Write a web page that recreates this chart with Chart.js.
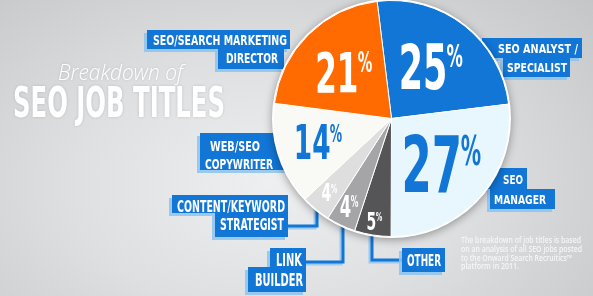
<!DOCTYPE html>
<html lang="en">
<head>
<meta charset="utf-8">
<title>Breakdown of SEO Job Titles</title>
<script src="https://cdn.jsdelivr.net/npm/chart.js"></script>
<style>
    html, body {
        margin: 0;
        padding: 0;
    }

    body {
        width: 593px;
        height: 296px;
        overflow: hidden;
        background: radial-gradient(ellipse 75% 95% at 45% 62%, #eeeff0 0%, #dedfe1 45%, #c4c5c7 100%);
    }

    canvas {
        display: block;
    }
</style>
</head>
<body>
<canvas id="myChart" width="593" height="296"></canvas>
<script>
    // data, in drawing order starting just left of 12 o'clock, clockwise
    const categories = [
        ['SEO ANALYST /', 'SPECIALIST'],
        ['SEO', 'MANAGER'],
        ['OTHER'],
        ['LINK', 'BUILDER'],
        ['CONTENT/KEYWORD', 'STRATEGIST'],
        ['WEB/SEO', 'COPYWRITER'],
        ['SEO/SEARCH MARKETING', 'DIRECTOR']
    ];
    const shares = [25, 27, 5, 4, 4, 14, 21];
    const titleSmall = 'Breakdown of';
    const titleBig = 'SEO JOB TITLES';
    const footnote = [
        'The breakdown of job titles is based',
        'on an analysis of all SEO jobs posted',
        'to the Onward Search Recruitics\u2122',
        'platform in 2011.'
    ];

    // styling
    const BLUE = '#1176d6';
    const sliceColors = [BLUE, '#e8f6fd', '#555557', '#a5a5a8', '#dededf', '#f9f9f5', '#ff6b00'];
    const percentColors = ['#ffffff', BLUE, '#ffffff', '#ffffff', '#ffffff', BLUE, '#ffffff'];
    const labelRadius = [0.56, 0.584, 0.877, 0.825, 0.815, 0.645, 0.56];
    const labelHeight = [45, 56, 18, 21, 18, 34, 40];
    const CONDENSED = '"Liberation Sans Narrow", "DejaVu Sans Condensed", "Liberation Sans", sans-serif';

    // callout boxes: rects [x, y, w, h], text lines [x0, x1, capTop, baseline], connector polyline
    const callouts = [
        {boxes: [[482, 38, 100, 20], [503, 58, 67, 19]], text: [[498, 578, 44, 53], [507, 567, 63, 72]]},
        {boxes: [[470, 168, 57, 21], [490, 189, 65, 20]], text: [[503, 523, 175, 184], [494, 546, 195, 204]]},
        {boxes: [[402, 248, 43, 24]], text: [[407, 441, 255, 266]], line: [[372, 232], [372, 260], [402, 260]]},
        {boxes: [[270, 248, 36, 19], [248, 267, 58, 25]], text: [[276, 302, 254, 266], [255, 303, 274, 286]], line: [[306, 262], [343, 262], [343, 224]]},
        {boxes: [[172, 195, 116, 18], [215, 213, 73, 24]], text: [[177, 285, 201, 212], [220, 284, 219, 230]], line: [[288, 226], [317, 226], [317, 204]]},
        {boxes: [[200, 133, 88, 37]], text: [[210, 260, 141, 151], [205, 273, 159, 169]]},
        {boxes: [[147, 30, 143, 19], [218, 49, 66, 20]], text: [[153, 287, 35, 45], [226, 278, 53, 63]]}
    ];

    function fitText(ctx, text, family, weight, x0, x1, top, base, color) {
        const size = (base - top) / 0.716;
        ctx.save();
        ctx.font = weight + ' ' + size + 'px ' + family;
        ctx.fillStyle = color;
        ctx.textBaseline = 'alphabetic';
        ctx.textAlign = 'left';
        const w = ctx.measureText(text).width;
        ctx.translate(x0, base);
        ctx.scale((x1 - x0) / w, 1);
        ctx.fillText(text, 0, 0);
        ctx.restore();
    }

    function drawPercent(ctx, value, cx, cy, h, color) {
        const digits = String(value);
        ctx.save();
        ctx.fillStyle = color;
        ctx.textBaseline = 'alphabetic';
        ctx.textAlign = 'left';
        ctx.font = 'bold ' + (h / 0.716) + 'px ' + CONDENSED;
        const raw = ctx.measureText(digits).width;
        const sx = (0.54 * h * digits.length) / raw;
        const dw = raw * sx;
        const ph = h * 0.52;
        ctx.font = '600 ' + (ph / 0.716) + 'px ' + CONDENSED;
        const pw = ctx.measureText('%').width * sx;
        const left = cx - (dw + pw) / 2;
        const base = cy + h / 2;

        ctx.save();
        ctx.translate(left, base);
        ctx.scale(sx, 1);
        ctx.font = 'bold ' + (h / 0.716) + 'px ' + CONDENSED;
        ctx.fillText(digits, 0, 0);
        ctx.restore();

        ctx.save();
        ctx.translate(left + dw - h * 0.02, base - h + ph);
        ctx.scale(sx * 0.9, 1);
        ctx.font = '600 ' + (ph / 0.716) + 'px ' + CONDENSED;
        ctx.fillText('%', 0, 0);
        ctx.restore();
        ctx.restore();
    }

    const decorations = {
        id: 'decorations',
        beforeDatasetsDraw(chart) {
            const ctx = chart.ctx;

            // heading
            ctx.save();
            ctx.shadowColor = 'rgba(0,0,0,0.15)';
            ctx.shadowBlur = 3;
            fitText(ctx, titleSmall, '"Open Sans", "Liberation Sans", sans-serif', 'italic 300', 58, 183, 64, 80, '#ffffff');
            fitText(ctx, titleBig, CONDENSED, 'bold', 13, 225, 87, 117, '#ffffff');
            ctx.restore();

            // footnote
            const footY = [243, 252, 260.5, 269];
            const footX1 = [581, 582, 572, 519];
            footnote.forEach((t, i) => {
                fitText(ctx, t, '"Open Sans", "Liberation Sans", sans-serif', '600', 461, footX1[i], footY[i] - 6, footY[i], '#f6f6f6');
            });

            // connectors and boxes
            callouts.forEach(c => {
                if (c.line) {
                    ctx.save();
                    ctx.lineWidth = 3;
                    ctx.lineJoin = 'miter';
                    ctx.strokeStyle = 'rgba(140,195,240,0.8)';
                    ctx.beginPath();
                    c.line.forEach((p, k) => k ? ctx.lineTo(p[0] - 2, p[1] + 2) : ctx.moveTo(p[0] - 2, p[1] + 2));
                    ctx.stroke();
                    ctx.strokeStyle = BLUE;
                    ctx.beginPath();
                    c.line.forEach((p, k) => k ? ctx.lineTo(p[0], p[1]) : ctx.moveTo(p[0], p[1]));
                    ctx.stroke();
                    ctx.restore();
                }
                ctx.fillStyle = 'rgba(140,195,240,0.85)';
                c.boxes.forEach(b => ctx.fillRect(b[0] - 3, b[1] + 3, b[2], b[3]));
                ctx.fillStyle = BLUE;
                c.boxes.forEach(b => ctx.fillRect(b[0], b[1], b[2], b[3]));
            });
            callouts.forEach((c, i) => {
                categories[i].forEach((line, k) => {
                    const t = c.text[k];
                    fitText(ctx, line, CONDENSED, 'bold', t[0], t[1], t[2], t[3], '#ffffff');
                });
            });

            // white rim with soft shadow behind the pie
            const arc = chart.getDatasetMeta(0).data[0];
            ctx.save();
            ctx.shadowColor = 'rgba(0,0,0,0.35)';
            ctx.shadowBlur = 9;
            ctx.shadowOffsetY = 2;
            ctx.fillStyle = '#ffffff';
            ctx.beginPath();
            ctx.arc(arc.x, arc.y, arc.outerRadius + 1.5, 0, Math.PI * 2);
            ctx.fill();
            ctx.restore();
        },
        afterDatasetsDraw(chart) {
            const ctx = chart.ctx;
            chart.getDatasetMeta(0).data.forEach((arc, i) => {
                const mid = (arc.startAngle + arc.endAngle) / 2;
                const r = arc.outerRadius * labelRadius[i];
                drawPercent(ctx, shares[i], arc.x + Math.cos(mid) * r, arc.y + Math.sin(mid) * r, labelHeight[i], percentColors[i]);
            });
        }
    };

    const ctx = document.getElementById('myChart').getContext('2d');
    const chart = new Chart(ctx, {
        type: 'pie',
        data: {
            labels: categories,
            datasets: [{
                data: shares,
                backgroundColor: sliceColors,
                borderColor: '#ffffff',
                borderWidth: 1,
                hoverOffset: 0
            }]
        },
        options: {
            responsive: false,
            animation: false,
            rotation: -7,
            layout: {
                padding: {left: 273, right: 83, top: 0, bottom: 59}
            },
            plugins: {
                legend: {display: false},
                tooltip: {enabled: false}
            }
        },
        plugins: [decorations]
    });
</script>
</body>
</html>
